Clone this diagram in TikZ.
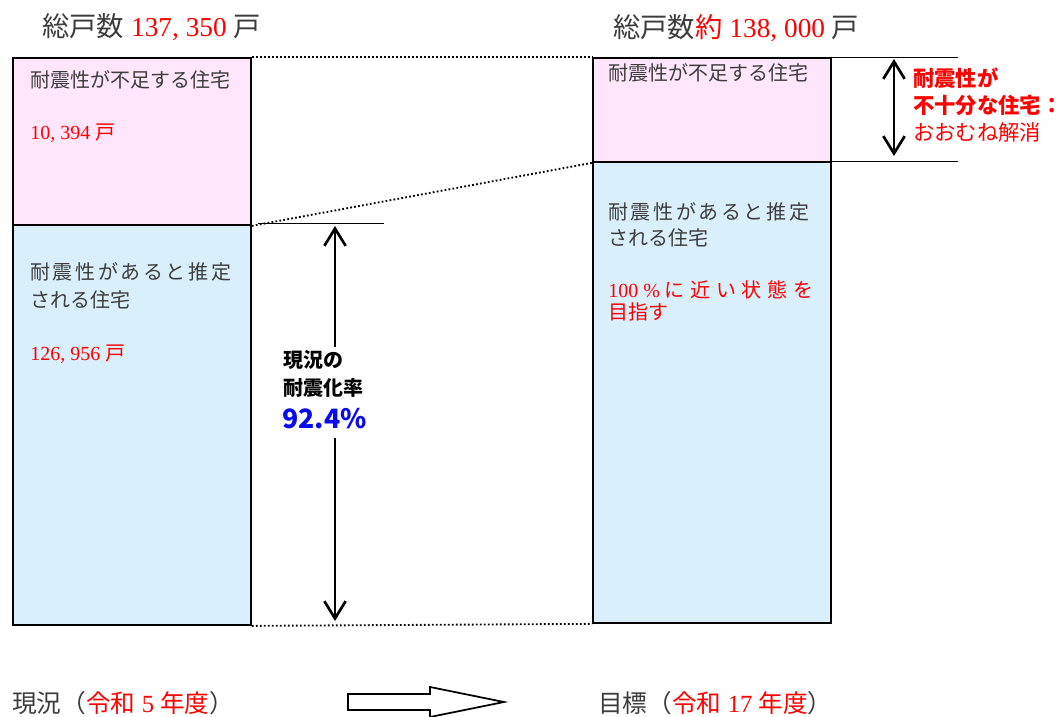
\documentclass[tikz,border=0pt]{standalone}
\usepackage{fontspec}
\setmainfont{Liberation Serif}
\newfontfamily\cjk{Noto Sans CJK JP}
\newfontfamily\cjkwide{Noto Sans CJK JP}[LetterSpace=13]
\newfontfamily\cjkmid{Noto Sans CJK JP}[LetterSpace=6]
\usetikzlibrary{arrows.meta}
\definecolor{boxpink}{RGB}{255,230,251}
\definecolor{boxblue}{RGB}{217,239,251}
\definecolor{txtgray}{RGB}{60,60,60}
\definecolor{ratioblue}{RGB}{10,10,240}

\tikzset{
  bar/.style={draw,line width=1.4pt,inner sep=0pt,minimum width=178.5pt,anchor=north west},
  boxtext/.style={anchor=west,inner sep=0pt,align=left,text=txtgray,font=\fontsize{15}{21}\selectfont},
  headtext/.style={anchor=west,inner sep=0pt,text=txtgray,font=\fontsize{20.5}{24}\selectfont},
  foottext/.style={anchor=west,inner sep=0pt,text=txtgray,font=\fontsize{18.5}{22}\selectfont},
  dotline/.style={line width=1.4pt,dash pattern=on 1.3pt off 1.7pt},
  tickline/.style={line width=0.7pt},
  barb/.tip={Straight Barb[length=13pt,width=16pt,line width=2pt]},
  dimarrow/.style={line width=2pt,-barb}
}

\begin{document}
\begin{tikzpicture}[x=0.75pt,y=-0.75pt]
\useasboundingbox (0,0) rectangle (1061,717);

% 棒グラフ
\node[bar,fill=boxpink,minimum height=125.25pt] (lpink) at (12,57) {};
\node[bar,fill=boxblue,minimum height=300pt] (lblue) at (12,224) {};
\node[bar,fill=boxpink,minimum height=78pt] (rpink) at (592,57) {};
\node[bar,fill=boxblue,minimum height=345.75pt] (rblue) at (592,161) {};

\draw[dotline] (lpink.north east) -- (rpink.north west);
\draw[dotline] (lpink.south east) -- (rpink.south west);
\draw[dotline] (lblue.south east) -- (rblue.south west);

% 見出し
\node[headtext] (lhead) at (42,27) {{\cjk 総戸数} {\color{red}137, 350} {\cjk 戸}};
\node[headtext] (rhead) at (613,28) {{\cjk 総戸数}{\color{red}\cjk 約} {\color{red}138, 000} {\cjk 戸}};

% 箱の中の文字
\node[boxtext] (lpinkt) at (30,80) {\cjk 耐震性が不足する住宅};
\node[boxtext,text=red] (lpinkn) at (30,133) {10, 394 {\cjk 戸}};
\node[boxtext] (lbluet) at (30,286) {\cjkwide 耐震性があると推定\\\cjk される住宅};
\node[boxtext,text=red] (lbluen) at (30,354) {126, 956 {\cjk 戸}};
\node[boxtext] (rpinkt) at (608,73) {\cjk 耐震性が不足する住宅};
\node[boxtext,font=\fontsize{15}{19.5}\selectfont] (rbluet) at (608,225) {\cjkwide 耐震性があると推定\\\cjk される住宅};
\node[boxtext,text=red,font=\fontsize{15}{16.5}\selectfont] (rbluen) at (608,301) {100 \% {\cjkmid に 近 い 状 態 を}\\\cjk 目指す};

% 耐震化率
\node[anchor=north west,inner sep=0pt,align=left,font=\cjk\bfseries\fontsize{15}{21}\selectfont] (rate) at (283,350) {現況の\\耐震化率};
\node[anchor=west,inner sep=0pt,text=ratioblue,font=\cjk\bfseries\fontsize{20}{24}\selectfont] (pct) at (282,419) {92.4\%};

\coordinate (ltickL) at (258,223);
\coordinate (ltickR) at (384,223);
\draw[tickline] (ltickL) -- (ltickR);
\coordinate (lup) at (335,226);
\coordinate (lupT) at (335,347);
\coordinate (ldn) at (335,621);
\coordinate (ldnT) at (335,438);
\draw[dimarrow] (lupT) -- (lup);
\draw[dimarrow] (ldnT) -- (ldn);

% 右側の寸法
\coordinate (rtopL) at (832,57);
\coordinate (rtopR) at (958,57);
\coordinate (rbotL) at (832,161);
\coordinate (rbotR) at (958,161);
\draw[tickline] (rtopL) -- (rtopR);
\draw[tickline] (rbotL) -- (rbotR);
\coordinate (rup) at (894,59);
\coordinate (rdn) at (894,156);
\draw[dimarrow,barb-barb] (rup) -- (rdn);
\node[anchor=west,inner sep=0pt,align=left,text=red,font=\cjk\fontsize{16}{20.25}\selectfont] (short) at (913,105) {\bfseries 耐震性が\\\bfseries 不十分な住宅：\\おおむね解消};

% 年度
\node[foottext] (now) at (12,703) {{\cjk 現況（}{\color{red}\cjk 令和} {\color{red}5} {\color{red}\cjk 年度}{\cjk ）}};
\node[foottext] (goal) at (598,703) {{\cjk 目標（}{\color{red}\cjk 令和} {\color{red}17} {\color{red}\cjk 年度}{\cjk ）}};
\draw[line width=1.3pt,fill=white] (348,694) -- (430,694) -- (430,687) -- (504,702) -- (430,717) -- (430,710) -- (348,710) -- cycle;
\end{tikzpicture}
\end{document}
